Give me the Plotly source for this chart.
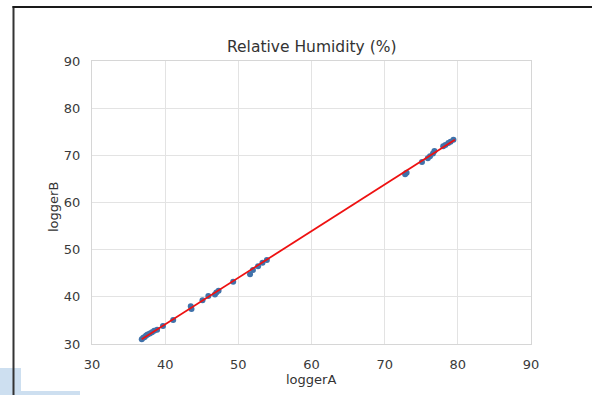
import plotly.graph_objects as go

# Data
logger_a = [36.8, 37.0, 37.2, 37.4, 37.6, 37.9, 38.2, 38.5, 38.9, 39.7, 41.1, 43.5, 43.6,
            45.1, 45.9, 46.8, 47.0, 47.3, 49.3, 51.6, 52.0, 52.7, 53.3, 53.9,
            72.8, 73.0, 75.1, 75.9, 76.2, 76.6, 76.8, 78.0, 78.3, 78.7, 79.0, 79.4]
logger_b = [31.0, 31.3, 31.5, 31.8, 32.0, 32.2, 32.5, 32.8, 33.0, 33.8, 35.1, 38.0, 37.4,
            39.3, 40.2, 40.5, 40.9, 41.3, 43.2, 44.8, 45.7, 46.5, 47.2, 47.8,
            66.0, 66.3, 68.6, 69.4, 69.8, 70.4, 70.9, 71.9, 72.2, 72.6, 72.9, 73.3]
fit_x = [36.8, 79.6]
fit_y = [31.0, 73.3]
ticks = [30, 40, 50, 60, 70, 80, 90]

W, H = 592, 395
ML, MR, MT, MB = 92, 61, 61, 51
PW, PH = W - ML - MR, H - MT - MB


def px(x):
    return (x - ML) / PW


def py(y):
    return (H - MB - y) / PH


fig = go.Figure()
fig.add_trace(go.Scatter(x=logger_a, y=logger_b, mode="markers",
                         marker=dict(size=6, color="#4072aa"), showlegend=False))
fig.add_trace(go.Scatter(x=fit_x, y=fit_y, mode="lines",
                         line=dict(color="#ee1111", width=1.8), showlegend=False))

font = "DejaVu Sans, sans-serif"
axis_common = dict(range=[30, 90], tickvals=ticks, showgrid=True, gridcolor="#e3e3e3",
                   gridwidth=1, showline=True, linecolor="#d6d6d6", linewidth=1,
                   mirror=True, zeroline=False, ticks="", ticklabelstandoff=8,
                   tickfont=dict(family=font, size=13, color="#3a3a3a"))

fig.update_layout(
    width=W, height=H,
    margin=dict(l=ML, r=MR, t=MT, b=MB, pad=0),
    paper_bgcolor="white", plot_bgcolor="white",
    xaxis=dict(**axis_common),
    yaxis=dict(**axis_common),
    font=dict(family=font),
    annotations=[
        dict(text="Relative Humidity (%)", x=0.5, y=py(47), xref="paper", yref="paper",
             showarrow=False, xanchor="center", yanchor="middle",
             font=dict(family=font, size=15.5, color="#333333")),
        dict(text="loggerA", x=px(311), y=py(379), xref="paper", yref="paper",
             showarrow=False, xanchor="center", yanchor="middle",
             font=dict(family=font, size=13, color="#333333")),
        dict(text="loggerB", x=px(53), y=py(207), xref="paper", yref="paper",
             showarrow=False, xanchor="center", yanchor="middle", textangle=-90,
             font=dict(family=font, size=13, color="#333333")),
    ],
    shapes=[
        dict(type="rect", xref="paper", yref="paper", x0=px(0), x1=px(21), y0=py(368), y1=py(395),
             fillcolor="#cddff0", line=dict(width=0), layer="below"),
        dict(type="rect", xref="paper", yref="paper", x0=px(0), x1=px(80), y0=py(391), y1=py(395),
             fillcolor="#cddff0", line=dict(width=0), layer="below"),
        dict(type="line", xref="paper", yref="paper", x0=px(13.5), x1=px(13.5), y0=py(6), y1=py(395),
             line=dict(color="#333333", width=2)),
        dict(type="line", xref="paper", yref="paper", x0=px(12.5), x1=px(592), y0=py(7), y1=py(7),
             line=dict(color="#1a1a1a", width=2)),
    ],
)

fig.write_html("out.html")
